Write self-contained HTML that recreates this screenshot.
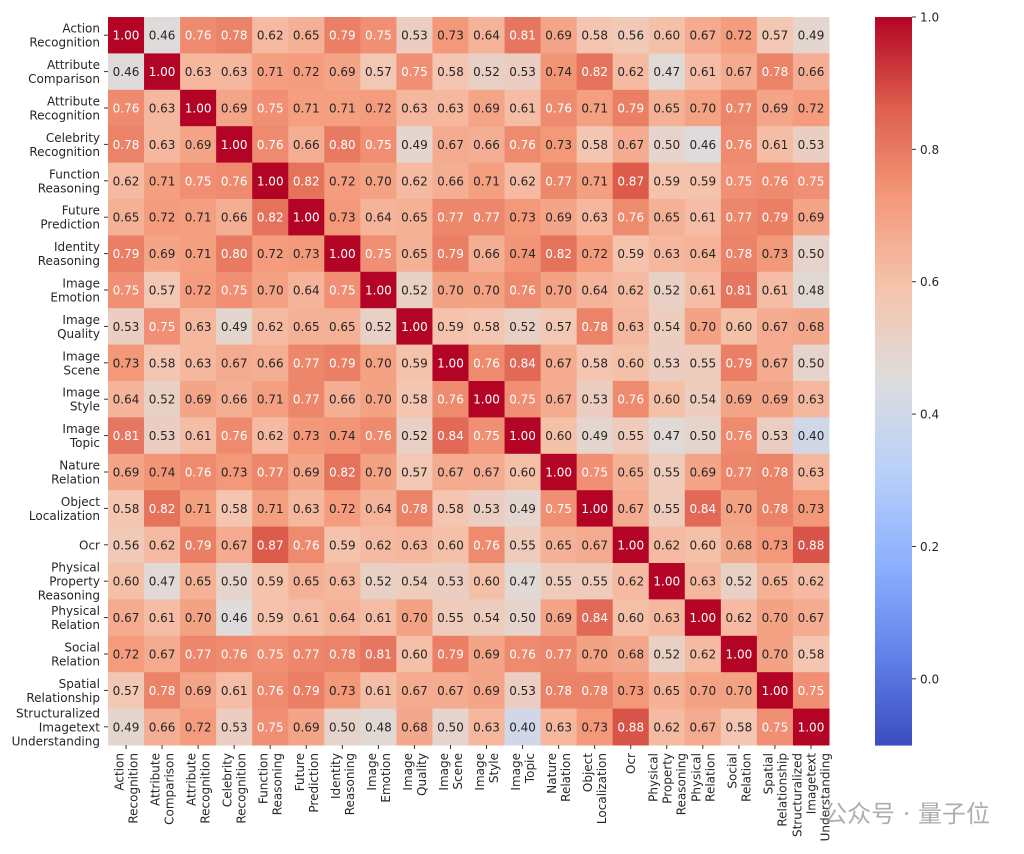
<!DOCTYPE html>
<html><head><meta charset="utf-8">
<style>
html,body{margin:0;padding:0;background:#fff;width:1024px;height:854px;overflow:hidden}
svg text{font-family:"DejaVu Sans","Liberation Sans","Noto Sans CJK SC",sans-serif}
</style></head>
<body>
<svg id="chart" width="1024" height="854" xmlns="http://www.w3.org/2000/svg"></svg>
<script>
const labels = [
 ["Action","Recognition"],["Attribute","Comparison"],["Attribute","Recognition"],["Celebrity","Recognition"],
 ["Function","Reasoning"],["Future","Prediction"],["Identity","Reasoning"],["Image","Emotion"],["Image","Quality"],
 ["Image","Scene"],["Image","Style"],["Image","Topic"],["Nature","Relation"],["Object","Localization"],["Ocr"],
 ["Physical","Property","Reasoning"],["Physical","Relation"],["Social","Relation"],["Spatial","Relationship"],
 ["Structuralized","Imagetext","Understanding"]];
const vals = [
[1.00,.46,.76,.78,.62,.65,.79,.75,.53,.73,.64,.81,.69,.58,.56,.60,.67,.72,.57,.49],
[.46,1.00,.63,.63,.71,.72,.69,.57,.75,.58,.52,.53,.74,.82,.62,.47,.61,.67,.78,.66],
[.76,.63,1.00,.69,.75,.71,.71,.72,.63,.63,.69,.61,.76,.71,.79,.65,.70,.77,.69,.72],
[.78,.63,.69,1.00,.76,.66,.80,.75,.49,.67,.66,.76,.73,.58,.67,.50,.46,.76,.61,.53],
[.62,.71,.75,.76,1.00,.82,.72,.70,.62,.66,.71,.62,.77,.71,.87,.59,.59,.75,.76,.75],
[.65,.72,.71,.66,.82,1.00,.73,.64,.65,.77,.77,.73,.69,.63,.76,.65,.61,.77,.79,.69],
[.79,.69,.71,.80,.72,.73,1.00,.75,.65,.79,.66,.74,.82,.72,.59,.63,.64,.78,.73,.50],
[.75,.57,.72,.75,.70,.64,.75,1.00,.52,.70,.70,.76,.70,.64,.62,.52,.61,.81,.61,.48],
[.53,.75,.63,.49,.62,.65,.65,.52,1.00,.59,.58,.52,.57,.78,.63,.54,.70,.60,.67,.68],
[.73,.58,.63,.67,.66,.77,.79,.70,.59,1.00,.76,.84,.67,.58,.60,.53,.55,.79,.67,.50],
[.64,.52,.69,.66,.71,.77,.66,.70,.58,.76,1.00,.75,.67,.53,.76,.60,.54,.69,.69,.63],
[.81,.53,.61,.76,.62,.73,.74,.76,.52,.84,.75,1.00,.60,.49,.55,.47,.50,.76,.53,.40],
[.69,.74,.76,.73,.77,.69,.82,.70,.57,.67,.67,.60,1.00,.75,.65,.55,.69,.77,.78,.63],
[.58,.82,.71,.58,.71,.63,.72,.64,.78,.58,.53,.49,.75,1.00,.67,.55,.84,.70,.78,.73],
[.56,.62,.79,.67,.87,.76,.59,.62,.63,.60,.76,.55,.65,.67,1.00,.62,.60,.68,.73,.88],
[.60,.47,.65,.50,.59,.65,.63,.52,.54,.53,.60,.47,.55,.55,.62,1.00,.63,.52,.65,.62],
[.67,.61,.70,.46,.59,.61,.64,.61,.70,.55,.54,.50,.69,.84,.60,.63,1.00,.62,.70,.67],
[.72,.67,.77,.76,.75,.77,.78,.81,.60,.79,.69,.76,.77,.70,.68,.52,.62,1.00,.70,.58],
[.57,.78,.69,.61,.76,.79,.73,.61,.67,.67,.69,.53,.78,.78,.73,.65,.70,.70,1.00,.75],
[.49,.66,.72,.53,.75,.69,.50,.48,.68,.50,.63,.40,.63,.73,.88,.62,.67,.58,.75,1.00]];
const cbTicks = [0.0,0.2,0.4,0.6,0.8,1.0];
const vmin = -0.1, vmax = 1.0;

const L=108, T=17, R=829, B=745, n=labels.length;
const cw=(R-L)/n, ch=(B-T)/n;
const xPos = i => L + i*cw;
const yPos = i => T + i*ch;
const cmap=[[59,76,192],[98,130,234],[141,176,254],[184,208,249],[221,221,221],[245,196,173],[244,154,123],[222,96,77],[180,4,38]];
function color(v){
  let t=Math.max(0,Math.min(1,(v-vmin)/(vmax-vmin)))*(cmap.length-1);
  let i=Math.min(Math.floor(t),cmap.length-2), f=t-i;
  return cmap[i].map((c,k)=>Math.round(c+(cmap[i+1][k]-c)*f));
}
const svg=document.getElementById('chart');
const NS='http://www.w3.org/2000/svg';
function mk(tag,attrs,parent){const e=document.createElementNS(NS,tag);for(const k in attrs)e.setAttribute(k,attrs[k]);(parent||svg).appendChild(e);return e;}

const cells=mk('g',{});


for(let r=0;r<n;r++)for(let c=0;c<n;c++){
  const v=vals[r][c], col=color(v);
  const rect=mk('rect',{x:xPos(c),y:yPos(r),width:cw+0.5,height:ch+0.5,fill:`rgb(${col})`},cells);
  
  
  const t=mk('text',{x:xPos(c)+cw/2,y:yPos(r)+ch/2+4.5,'text-anchor':'middle','font-size':'12',fill:(v>=0.745||v<0.1)?'#ffffff':'#262626'},cells);
  
  
  t.textContent=v.toFixed(2);
}
for(let r=0;r<n;r++){
  const cy=yPos(r)+ch/2;
  mk('line',{x1:L-4,x2:L,y1:cy,y2:cy,stroke:'#333','stroke-width':1});
  const lines=labels[r], lh=14;
  lines.forEach((s,k)=>{
    const t=mk('text',{x:L-8,y:cy+4.5+(k-(lines.length-1)/2)*lh,'text-anchor':'end','font-size':'12',fill:'#262626'});
    
    
    t.textContent=s;
  });
}
for(let c=0;c<n;c++){
  const cx=xPos(c)+cw/2;
  mk('line',{x1:cx,x2:cx,y1:B,y2:B+4,stroke:'#333','stroke-width':1});
  const lines=labels[c], lh=14;
  lines.forEach((s,k)=>{
    const off=(k-(lines.length-1)/2)*lh;
    const t=mk('text',{x:0,y:0,'text-anchor':'end','font-size':'12',fill:'#262626',transform:`translate(${cx+4.5+off},${B+8}) rotate(-90)`});
    
    
    t.textContent=s;
  });
}
const CL=875, CR=912;
const cby = v => T + (vmax-v)/(vmax-vmin)*(B-T);
const cb=mk('g',{});


const steps=220;
for(let i=0;i<steps;i++){
  const v1=vmax-(i)*(vmax-vmin)/steps, v2=vmax-(i+1)*(vmax-vmin)/steps;
  const col=color((v1+v2)/2);
  mk('rect',{x:CL,y:cby(v1),width:CR-CL,height:cby(v2)-cby(v1)+0.6,fill:`rgb(${col})`},cb);
}
cbTicks.forEach(v=>{
  const y=cby(v);
  mk('line',{x1:CR,x2:CR+4,y1:y,y2:y,stroke:'#333','stroke-width':1},cb);
  const t=mk('text',{x:CR+8,y:y+4.5,'font-size':'12',fill:'#262626'},cb);
  
  
  t.textContent=v.toFixed(1);
});
const wm=mk('text',{x:990,y:822,'text-anchor':'end','font-size':'24',fill:'#9a9a9a','fill-opacity':'0.8'});


wm.textContent='公众号 · 量子位';
</script>
</body></html>
